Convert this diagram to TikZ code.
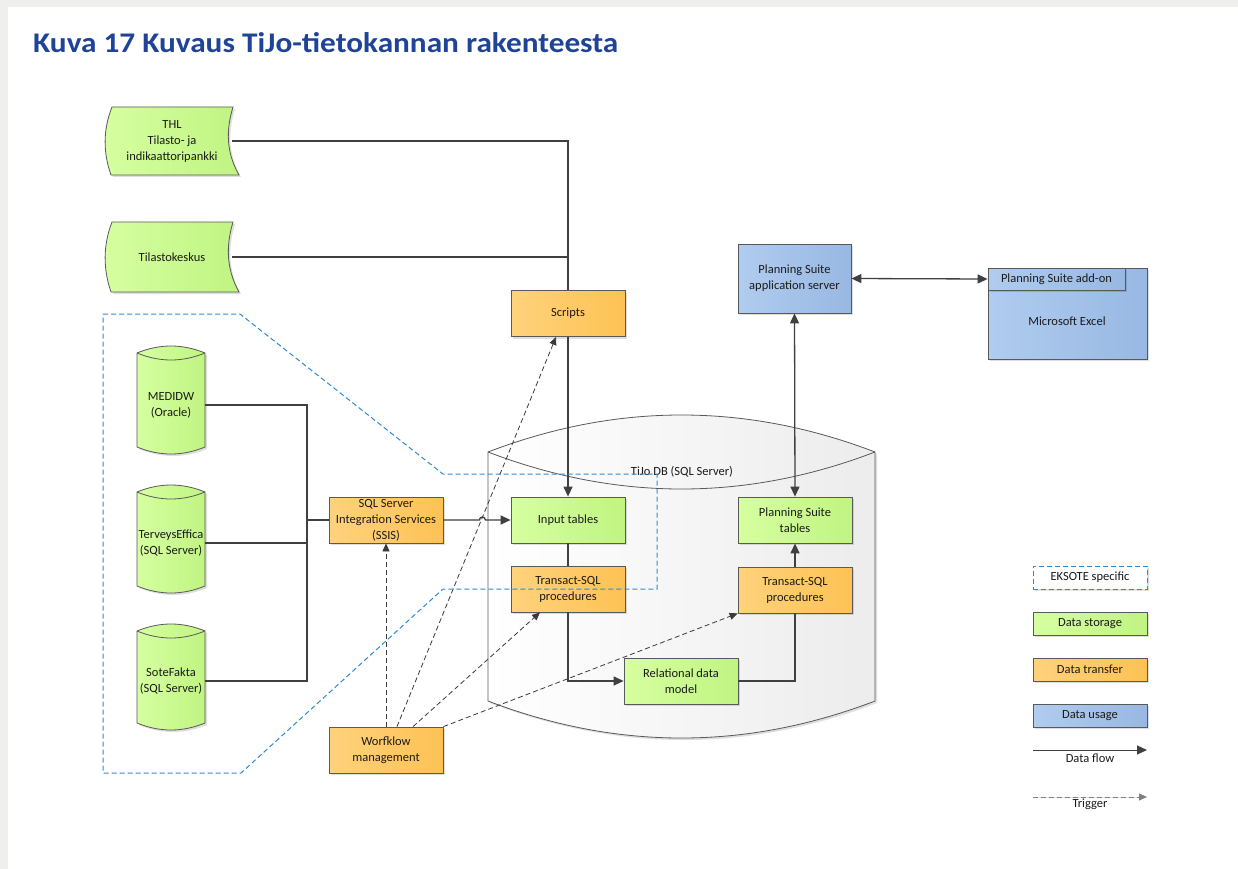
\documentclass[tikz,border=0pt]{standalone}
\usepackage{fontspec}
\usepackage{graphicx}
\setmainfont{Carlito}
\usetikzlibrary{arrows.meta,shadows,calc}

\definecolor{edge}{HTML}{595959}
\definecolor{flow}{HTML}{404040}
\definecolor{trig}{HTML}{3A3A3A}
\definecolor{greenL}{HTML}{D6FFA0}
\definecolor{greenR}{HTML}{C0F482}
\definecolor{orangeL}{HTML}{FFD27C}
\definecolor{orangeR}{HTML}{FDC254}
\definecolor{blueL}{HTML}{B0CCEF}
\definecolor{blueR}{HTML}{98B8E3}
\definecolor{eksote}{HTML}{2E8AD8}
\definecolor{titleblue}{HTML}{1F4397}
\definecolor{txt}{HTML}{1A1A1A}
\definecolor{pagegray}{HTML}{EFEFEE}
\definecolor{dbgray}{HTML}{ECECEC}

\newcommand\diagfont{\fontsize{12.5}{16}\selectfont}

% green "stored data" source with curved sides, between two y values
\newcommand\storedshape[2]{%
  \path[shadowed, draw=edge, line width=0.8pt, left color=greenL, right color=greenR]
    (112,#1) -- (233,#1)
    .. controls (226,{#1+(#2-#1)/3}) and (226,{#1+2*(#2-#1)/3}) .. (239,#2)
    -- (111,#2)
    .. controls (103,{#1+2*(#2-#1)/3}) and (103,{#1+(#2-#1)/3}) .. (112,#1) -- cycle;}

% database cylinder: x1, top y, x2, bottom y, arc bulge, left fill, right fill
\newcommand\dbcyl[7]{%
  \path[shadowed, draw=edge, line width=0.8pt, left color=#6, right color=#7]
    (#1,#2) .. controls ({#1+(#3-#1)/3},{#2-4*#5/3}) and ({#3-(#3-#1)/3},{#2-4*#5/3}) .. (#3,#2)
    -- (#3,#4) .. controls ({#3-(#3-#1)/3},{#4+4*#5/3}) and ({#1+(#3-#1)/3},{#4+4*#5/3}) .. (#1,#4)
    -- cycle;
  \draw[edge, line width=0.8pt]
    (#1,#2) .. controls ({#1+(#3-#1)/3},{#2+4*#5/3}) and ({#3-(#3-#1)/3},{#2+4*#5/3}) .. (#3,#2);}

\tikzset{
  shadowed/.style={drop shadow={shadow xshift=2pt, shadow yshift=-2pt, opacity=0.13, fill=black}},
  box/.style={shadowed, draw=edge, line width=0.8pt, minimum width=114pt, minimum height=46pt,
    align=center, inner xsep=2pt, inner ysep=0pt, font=\diagfont, text=txt},
  store/.style={box, left color=greenL, right color=greenR},
  xfer/.style={box, left color=orangeL, right color=orangeR},
  usage/.style={box, left color=blueL, right color=blueR},
  plain/.style={align=center, inner sep=0pt, font=\diagfont, text=txt},
  flowline/.style={draw=flow, line width=1.3pt},
  flowarrow/.style={flowline, -{Triangle[length=10pt,width=9pt]}},
  flowboth/.style={flowline, {Triangle[length=10pt,width=9pt]}-{Triangle[length=10pt,width=9pt]}},
  trigger/.style={draw=trig, line width=0.8pt, dash pattern=on 5pt off 3pt,
    -{Triangle[length=8pt,width=7pt]}},
  eksoteline/.style={draw=eksote, line width=1pt, dash pattern=on 5pt off 3pt},
}

\begin{document}
\begin{tikzpicture}[x=1pt, y=-1pt, font=\diagfont, text=txt]
% page
\fill[pagegray] (0,0) rectangle (1238,869);
\fill[white] (8,7) rectangle (1238,869);
\useasboundingbox (0,0) rectangle (1238,869);

% title
\node[anchor=base west, inner sep=0pt, text=titleblue] (title) at (33,53)
  {\resizebox{585pt}{20pt}{\bfseries Kuva 17 Kuvaus TiJo-tietokannan rakenteesta}};

% external statistics sources
\storedshape{107}{175}
\storedshape{222}{292}
\node[plain, minimum width=120pt] (thl) at (172,141) {THL\\Tilasto- ja\\indikaattoripankki};
\node[plain, minimum width=120pt] (tk) at (172,257) {Tilastokeskus};

% source databases
\dbcyl{137}{353}{205}{447}{7}{greenL}{greenR}
\dbcyl{137}{492}{205}{586}{7}{greenL}{greenR}
\dbcyl{137}{631}{205}{723}{7}{greenL}{greenR}
\node[plain, minimum width=68pt] (medidw) at (171,405) {MEDIDW\\(Oracle)};
\node[plain, minimum width=68pt] (effica) at (171,543) {TerveysEffica\\(SQL Server)};
\node[plain, minimum width=68pt] (sote) at (171,681) {SoteFakta\\(SQL Server)};

% TiJo database
\dbcyl{488}{452}{875}{701}{37}{white}{dbgray}
\node[plain] (tijo) at (682,472) {TiJo DB (SQL Server)};

% process boxes
\node[xfer] (scripts) at (568,313.5) {Scripts};
\node[xfer] (ssis) at (386,520) {SQL Server\\Integration Services\\(SSIS)};
\node[xfer] (wf) at (386,750) {Worfklow\\management};
\node[store] (input) at (568,520) {Input tables};
\node[xfer] (tsql1) at (568,589) {Transact-SQL\\procedures};
\node[store] (rel) at (681,681) {Relational data\\model};
\node[xfer] (tsql2) at (795,590) {Transact-SQL\\procedures};
\node[store] (pstab) at (795,520) {Planning Suite\\tables};
\node[usage, minimum width=113pt, minimum height=69pt] (psapp) at (794.5,278.5) {Planning Suite\\application server};
\node[usage, minimum width=159pt, minimum height=91pt] (excel) at (1067.5,313.5) {};
\node[plain] (exceltext) at (1067,321) {Microsoft Excel};
\node[usage, minimum width=137pt, minimum height=22pt, anchor=north west, drop shadow={opacity=0}]
  (addon) at (excel.north west) {Planning Suite add-on};

% data flows
\coordinate (bus) at (307,520);
\draw[flowline] (thl.east) -| (scripts.north);
\draw[flowline] (tk.east) -| (scripts.north);
\draw[flowarrow] (scripts.south) -- (input.north);
\draw[flowline] (medidw.east) -| (bus);
\draw[flowline] (sote.east) -| (bus);
\draw[flowline] (effica.east) -- (effica.east -| bus);
\draw[flowline] (bus) -- (ssis.west);
\draw[flowarrow] (ssis.east) -- ++(36,0) arc[start angle=180, end angle=360, radius=3] -- (input.west);
\draw[flowline] (input.south) -- (tsql1.north);
\draw[flowarrow] (tsql1.south) |- (rel.west);
\draw[flowline] (rel.east) -| (tsql2.south);
\draw[flowarrow] (tsql2.north) -- (pstab.south);
\draw[flowboth] (psapp.south) -- (pstab.north);
\draw[flowboth] (psapp.east) -- (addon.west);

% triggers
\draw[trigger] (wf.north) -- (ssis.south);
\draw[trigger] ([xshift=11pt]wf.north) -- ([xshift=-12pt]scripts.south);
\draw[trigger] ([xshift=27pt]wf.north) -- ([xshift=-28pt]tsql1.south);
\draw[trigger] (wf.north east) -- (tsql2.south west);

% EKSOTE specific area
\draw[eksoteline] (103,314) -- (240,314) -- (443,474) -- (657,474) -- (657,589)
  -- (443,589) -- (241,773) -- (103,773) -- cycle;

% legend
\node[box, eksoteline, fill=white, minimum height=23pt, drop shadow={opacity=0}] (lgE) at (1090,577.5) {EKSOTE specific};
\node[store, minimum height=23pt] (lgS) at (1090,623.5) {Data storage};
\node[xfer, minimum height=23pt] (lgT) at (1090,669.5) {Data transfer};
\node[usage, minimum height=23pt] (lgU) at (1090,715.5) {Data usage};
\coordinate (lfA) at (1033,750);
\coordinate (lfB) at (1147,750);
\draw[flowarrow, line width=1pt] (lfA) -- (lfB);
\node[plain] (lfText) at (1090,758) {Data flow};
\coordinate (ltA) at (1033,797);
\coordinate (ltB) at (1147,797);
\draw[trigger, draw=gray, fill=gray!40!black] (ltA) -- (ltB);
\node[plain] (ltText) at (1090,804) {Trigger};
\end{tikzpicture}
\end{document}
